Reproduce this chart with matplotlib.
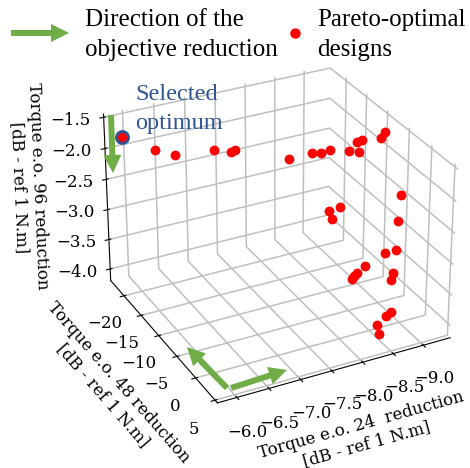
#!/usr/bin/env python3
import matplotlib
matplotlib.use("Agg")
import matplotlib.pyplot as plt
from matplotlib.lines import Line2D
from matplotlib.patches import FancyArrow

W, H = 470, 468
SERIF = ["Liberation Serif"]
TICK_FONT = ["DejaVu Serif"]
GREEN = "#70AD47"
BLUE = "#2F5597"

torque_24 = [-6.34, -6.57, -7.11, -7.29, -7.38, -8.01, -8.35, -8.47, -8.62, -8.85, -8.98, -9.01, -9.09,
             -9.39, -9.48, -9.43, -9.38, -9.20, -9.01, -9.01, -8.89, -8.90, -8.83, -8.71, -8.63, -8.60,
             -9.10, -9.06, -8.87, -8.75, -8.55, -8.50]
torque_48 = [-21.1, -19.4, -18.0, -16.5, -16.7, -12.7, -12.2, -11.7, -11.7, -10.5, -9.9, -10.9, -10.9,
             -10.5, -11.0, -6.2, -6.0, -3.9, -3.8, -14.7, -15.7, -15.1, -5.9, -6.1, -5.7, -5.8,
             -3.0, -2.9, -0.1, 0.4, 1.1, 2.3]
torque_96 = [-2.0, -2.05, -2.0, -2.0, -2.0, -2.05, -2.0, -2.0, -2.0, -2.0, -2.0, -1.9, -1.9,
             -1.9, -1.85, -2.6, -3.0, -3.3, -3.3, -3.2, -3.3, -3.4, -3.6, -3.7, -3.7, -3.75,
             -3.6, -3.7, -4.0, -4.0, -4.05, -4.1]
selected = (-6.00, -24.4, -1.9)

x_ticks = [-9, -8.5, -8, -7.5, -7, -6.5, -6]
y_ticks = [-20, -15, -10, -5, 0, 5]
z_ticks = [-4, -3.5, -3, -2.5, -2, -1.5]

fig = plt.figure(figsize=(W / 100, H / 100), dpi=100)
ax = fig.add_axes([0.151, 0.078, 0.852, 0.856], projection="3d")
ax.view_init(elev=29, azim=63)
ax.set_xlim(-9.45, -5.7)
ax.set_ylim(-24, 5.6)
ax.set_zlim(-4.2, -1.45)
ax.set_xticks(x_ticks)
ax.set_yticks(y_ticks)
ax.set_zticks(z_ticks)
for a in (ax.xaxis, ax.yaxis, ax.zaxis):
    a.set_pane_color((1, 1, 1, 0))
    a.pane.set_edgecolor("0.92")
    a._axinfo["grid"].update(color="0.75", linewidth=1.1)
    a.line.set_color("black")
ax.tick_params(labelsize=12)
ax.tick_params(axis="x", pad=5)
ax.tick_params(axis="y", pad=5)
ax.tick_params(axis="z", pad=7)
ax.set_xlabel("Torque e.o. 24  reduction\n[dB - ref 1 N.m]", family=TICK_FONT, fontsize=12, labelpad=12)
ax.set_ylabel("Torque e.o. 48 reduction\n[dB - ref 1 N.m]", family=TICK_FONT, fontsize=12, labelpad=12)
ax.set_zlabel("Torque e.o. 96 reduction\n[dB - ref 1 N.m]", family=TICK_FONT, fontsize=12, labelpad=15)
for t in ax.get_xticklabels() + ax.get_yticklabels() + ax.get_zticklabels():
    t.set_family(TICK_FONT)

ax.scatter(torque_24, torque_48, torque_96, c="red", s=50, linewidths=0, depthshade=False)
ax.scatter(*selected, c="red", s=75, edgecolors=BLUE, linewidths=2, depthshade=False)


def arrow(x0, y0, x1, y1):
    fig.add_artist(FancyArrow(x0, H - y0, x1 - x0, y0 - y1, width=6, head_width=18, head_length=18,
                              length_includes_head=True, color=GREEN, linewidth=0, transform=None))


arrow(11, 33, 69, 33)
arrow(111, 115, 113, 173)
arrow(227, 388, 187, 347)
arrow(231, 388, 287, 370)
fig.add_artist(Line2D([295 / W], [1 - 33 / H], marker="o", color="red", markersize=7.5, markeredgewidth=0,
                      transform=fig.transFigure))
fig.text(85 / W, 1 - 20 / H, "Direction of the", family=SERIF, fontsize=18, va="center")
fig.text(85 / W, 1 - 50 / H, "objective reduction", family=SERIF, fontsize=18, va="center")
fig.text(317 / W, 1 - 20 / H, "Pareto-optimal", family=SERIF, fontsize=18, va="center")
fig.text(317 / W, 1 - 50 / H, "designs", family=SERIF, fontsize=18, va="center")
fig.text(135 / W, 1 - 94 / H, "Selected", family=SERIF, fontsize=17.5, va="center", color=BLUE)
fig.text(135 / W, 1 - 124 / H, "optimum", family=SERIF, fontsize=17.5, va="center", color=BLUE)
fig.savefig("out.png", dpi=100)
